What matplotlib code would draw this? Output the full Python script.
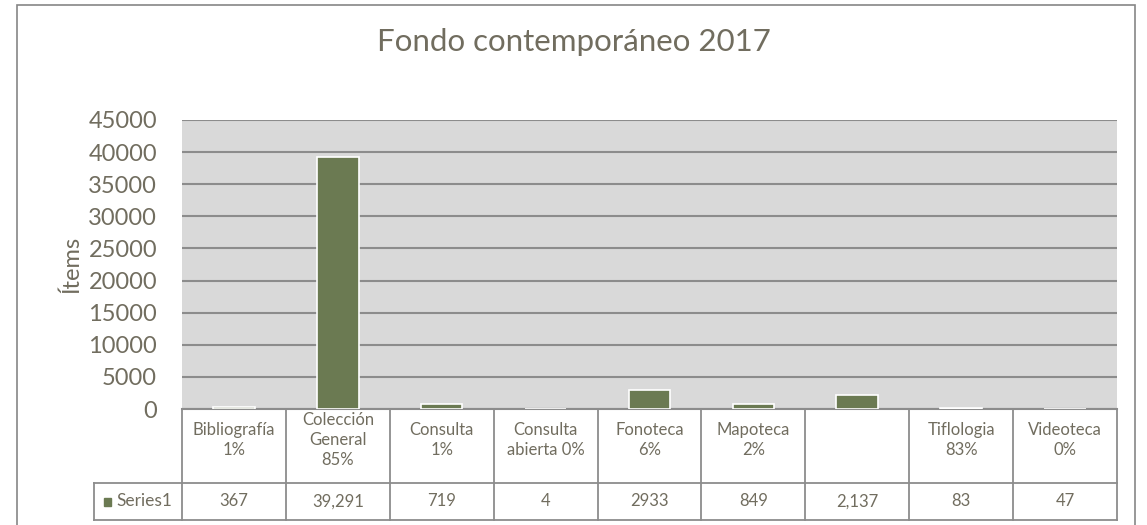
import numpy as np
import matplotlib.pyplot as plt
from matplotlib.lines import Line2D
from matplotlib.patches import Rectangle

categorias = ["Bibliografía\n1%", "Colección\nGeneral\n85%", "Consulta\n1%",
              "Consulta\nabierta 0%", "Fonoteca\n6%", "Mapoteca\n2%", "",
              "Tiflologia\n83%", "Videoteca\n0%"]
valores = [367, 39291, 719, 4, 2933, 849, 2137, 83, 47]
etiquetas_valores = ["367", "39,291", "719", "4", "2933", "849", "2,137", "83", "47"]
serie = "Series1"
titulo = "Fondo contemporáneo 2017"
yticks = np.arange(0, 45001, 5000)

W, H = 1147, 525
verde = "#6B7A52"
texto = "#716D5F"
borde = "#8C8C8C"

plt.rcParams['font.family'] = ['Lato', 'DejaVu Sans']
fig = plt.figure(figsize=(W / 100, H / 100), dpi=100)

# pixel helpers
def fx(px):
    return px / W

def fy(py):
    return 1 - py / H

x0, x1, ytop, ybot = 182, 1117, 120, 409
ax = fig.add_axes([fx(x0), fy(ybot), fx(x1) - fx(x0), fy(ytop) - fy(ybot)])
ax.set_facecolor("#D9D9D9")
x = np.arange(len(valores))
ax.bar(x, valores, width=0.4, color=verde, edgecolor="white", linewidth=1.2, zorder=3)
ax.set_xlim(-0.5, len(valores) - 0.5)
ax.set_ylim(0, 45000)
ax.set_yticks(yticks)
ax.set_yticklabels([str(v) for v in yticks], fontsize=17, color=texto)
ax.tick_params(axis='y', length=0, pad=18)
ax.set_xticks([])
ax.grid(axis='y', color=borde, linewidth=1.5, zorder=1)
for s in ["top", "right", "left"]:
    ax.spines[s].set_visible(False)
ax.spines["bottom"].set_color(borde)
ax.spines["bottom"].set_linewidth(1.5)
ax.set_ylabel("Ítems", fontsize=17, color=texto, labelpad=4)

fig.text(0.5, fy(42), titulo, ha='center', va='center', fontsize=22.5, color=texto)

# tabla de datos
r1, r2, r3 = 409, 483, 520
izq = 94
colw = (x1 - x0) / len(valores)
lw = 1.3
lines = []
lines.append(([fx(izq), fx(x1)], [fy(r2), fy(r2)]))
lines.append(([fx(izq), fx(x1)], [fy(r3), fy(r3)]))
lines.append(([fx(izq), fx(izq)], [fy(r2), fy(r3)]))
for i in range(len(valores) + 1):
    xp = x0 + i * colw
    lines.append(([fx(xp), fx(xp)], [fy(r1), fy(r3)]))
for xs, ys in lines:
    fig.add_artist(Line2D(xs, ys, color=borde, linewidth=lw))

for i, (cat, val) in enumerate(zip(categorias, etiquetas_valores)):
    xc = x0 + (i + 0.5) * colw
    fig.text(fx(xc), fy(440), cat, ha='center', va='center', fontsize=12,
             color=texto, linespacing=1.3)
    fig.text(fx(xc), fy((r2 + r3) / 2), val, ha='center', va='center',
             fontsize=12, color=texto)

fig.add_artist(Rectangle((fx(104), fy(506)), fx(7), fy(498) - fy(506), color=verde))
fig.text(fx(116), fy((r2 + r3) / 2), serie, ha='left', va='center', fontsize=12.5, color=texto)

# borde exterior del gráfico
fig.add_artist(Rectangle((fx(17), fy(540)), fx(1135 - 17), fy(5) - fy(540),
                         fill=False, edgecolor="#868686", linewidth=1.2))

fig.savefig("out.png", dpi=100)
